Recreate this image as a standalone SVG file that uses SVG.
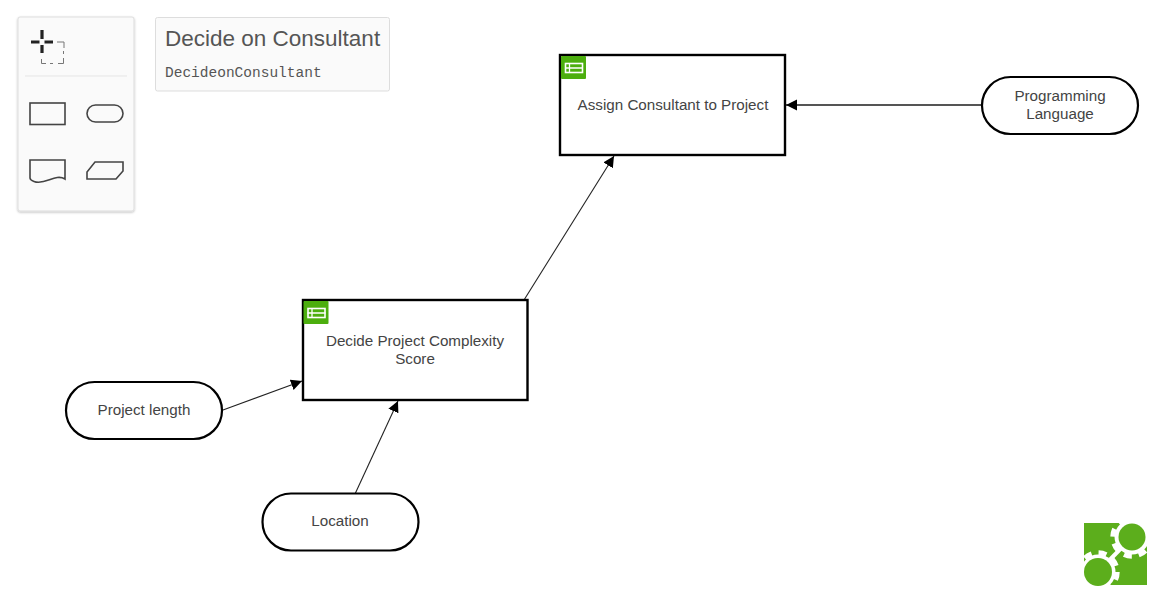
<svg xmlns="http://www.w3.org/2000/svg" width="1153" height="596" viewBox="0 0 1153 596">
<style>
text{font-family:"Liberation Sans",Arial,sans-serif;fill:#444;font-size:15.200px;text-anchor:middle}
.box{fill:#fff;stroke:#000;stroke-width:2.400}
.pill{fill:#fff;stroke:#000;stroke-width:2.200}
.conn{fill:none;stroke:#222;stroke-width:1.100;marker-end:url(#arr)}
.pal{fill:none;stroke:#444;stroke-width:1.600}
.panel{fill:#fafafa;stroke:#ddd;stroke-width:1}
.green{fill:#5cae1c}
.gap{fill:#fff}
.teeth{fill:none;stroke:#fff;stroke-width:5;stroke-dasharray:8 7.080}
</style>
<defs>
<marker id="arr" markerWidth="12" markerHeight="12" refX="11" refY="5.500" orient="auto" markerUnits="userSpaceOnUse"><path d="M0 0L11 5.500L0 11Z" fill="#000"/></marker>
<g id="ico"><rect width="25" height="23" rx="1" fill="#4cae0e"/><rect x="4.500" y="7.500" width="17" height="9" fill="none" stroke="#fff" stroke-width="1.600"/><path d="M4 12H22M8.500 8V16" stroke="#fff" stroke-width="1.300" fill="none"/></g>
<filter id="sh" x="-10%" y="-10%" width="120%" height="120%"><feDropShadow dx="0" dy="1" stdDeviation="1" flood-color="#000" flood-opacity=".25"/></filter>
</defs>
<g id="palette">
<rect class="panel" x="18" y="17" width="116" height="194" rx="2" filter="url(#sh)"/>
<path d="M31 42H39.500M44.500 42H53M42 30V39M42 45V53" stroke="#222" stroke-width="3.200" fill="none"/>
<path d="M57 42H64V48M63.500 51V54M63.500 58V63.500H58M53 63.500H50M46 63.500H41.500V59" stroke="#777" stroke-width="1" fill="none"/>
<line x1="25" y1="76" x2="127" y2="76" stroke="#e5e5e5"/>
<rect class="pal" x="30" y="103" width="35" height="21.500"/>
<rect class="pal" x="87" y="105" width="36" height="17" rx="8.500"/>
<path class="pal" d="M30 160H65V179C55 173 45 186 34 181.500Q30 180 30 178Z"/>
<path class="pal" d="M87 179V172L95 162H123V171L116 179Z"/>
</g>
<g id="title">
<rect class="panel" x="155.500" y="17.500" width="234" height="73.500" rx="2"/>
<text x="165" y="46" style="font-size:22.500px;text-anchor:start;fill:#555">Decide on Consultant</text>
<text x="165" y="77" style="font-family:'Liberation Mono',monospace;font-size:14.500px;text-anchor:start;fill:#555">DecideonConsultant</text>
</g>
<g id="connectors">
<line class="conn" x1="981" y1="105" x2="786" y2="105" style="stroke:#555;stroke-width:2"/>
<line class="conn" x1="524" y1="300" x2="614" y2="156"/>
<line class="conn" x1="223" y1="410" x2="302" y2="381"/>
<line class="conn" x1="355" y1="494" x2="398" y2="401"/>
</g>
<g id="assign">
<rect class="box" x="560" y="55" width="225" height="100"/>
<use href="#ico" x="561" y="56"/>
<text x="673" y="110">Assign Consultant to Project</text>
</g>
<g id="decide">
<rect class="box" x="303" y="300" width="224.500" height="100"/>
<use href="#ico" x="303.500" y="301"/>
<text x="415" y="346">Decide Project Complexity</text>
<text x="415" y="364">Score</text>
</g>
<g id="language">
<rect class="pill" x="982" y="77" width="156" height="57" rx="28.500"/>
<text x="1060" y="101">Programming</text>
<text x="1060" y="119">Language</text>
</g>
<g id="length">
<rect class="pill" x="66" y="382" width="156" height="57" rx="28.500"/>
<text x="144" y="415">Project length</text>
</g>
<g id="location">
<rect class="pill" x="262.500" y="493.500" width="156" height="57" rx="28.500"/>
<text x="340" y="526">Location</text>
</g>
<g id="logo">
<rect class="green" x="1084" y="523" width="42" height="42"/>
<rect class="green" x="1105" y="543" width="42" height="42"/>
<path d="M1098 572L1132 537" stroke="#fff" stroke-width="4"/>
<circle class="gap" cx="1132" cy="537" r="17.500"/>
<circle class="teeth" cx="1132" cy="537" r="19.200"/>
<circle class="gap" cx="1098" cy="572" r="17.500"/>
<circle class="teeth" cx="1098" cy="572" r="19.200"/>
<rect class="gap" x="1119" y="505" width="37" height="18"/>
<rect class="gap" x="1147" y="520" width="8" height="30"/>
<rect class="gap" x="1075" y="585" width="40" height="11"/>
<rect class="gap" x="1075" y="556" width="9" height="37"/>
<circle class="green" cx="1132" cy="537" r="13.500"/>
<circle class="green" cx="1098" cy="572" r="14"/>
</g>
</svg>
